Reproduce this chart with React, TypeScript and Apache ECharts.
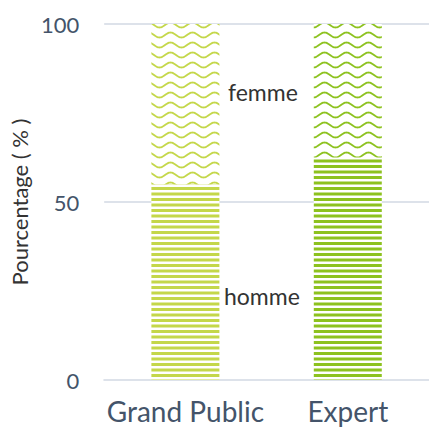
import React, { useEffect, useRef } from "react";
import * as echarts from "echarts";

const categories = ["Grand Public", "Expert"];
const hommeValues = [55, 62.5];
const femmeValues = [45, 37.5];
const yTicks = [0, 50, 100];
const barColors = ["#c4d74a", "#8dc21f"];

function stripeTile(color: string) {
  const c = document.createElement("canvas");
  c.width = 8;
  c.height = 11;
  const g = c.getContext("2d")!;
  g.fillStyle = "#ffffff";
  g.fillRect(0, 0, 8, 11);
  g.fillStyle = color;
  g.fillRect(0, 0, 8, 3);
  g.fillRect(0, 5.5, 8, 3);
  return c;
}

function waveTile(color: string) {
  const c = document.createElement("canvas");
  c.width = 22;
  c.height = 10;
  const g = c.getContext("2d")!;
  g.fillStyle = "#ffffff";
  g.fillRect(0, 0, 22, 10);
  g.strokeStyle = color;
  g.lineWidth = 1.8;
  g.beginPath();
  for (let x = -1; x <= 23; x += 0.5) {
    const y = 5 + 2.5 * Math.sin((2 * Math.PI * x) / 22);
    if (x === -1) g.moveTo(x, y);
    else g.lineTo(x, y);
  }
  g.stroke();
  return c;
}

export default function App() {
  const ref = useRef<HTMLDivElement>(null);
  useEffect(() => {
    const chart = echarts.init(ref.current!, undefined, { renderer: "svg" });
    const font = "Lato, 'Liberation Sans', sans-serif";
    const hommeData = hommeValues.map((v, i) => ({
      value: v,
      itemStyle: { color: { image: stripeTile(barColors[i]), repeat: "repeat" } },
    }));
    const femmeData = femmeValues.map((v, i) => ({
      value: v,
      itemStyle: { color: { image: waveTile(barColors[i]), repeat: "repeat" } },
    }));
    chart.setOption({
      animation: false,
      backgroundColor: "#ffffff",
      grid: { left: 96, right: 0, top: 24, bottom: 52, containLabel: false },
      xAxis: {
        type: "category",
        data: categories,
        axisLine: { lineStyle: { color: "#dde2ea", width: 2 } },
        axisTick: { show: false },
        axisLabel: {
          interval: 0,
          color: "#44546a",
          fontSize: 28,
          fontFamily: font,
          margin: 17,
        },
      },
      yAxis: {
        type: "value",
        min: 0,
        max: 100,
        interval: 50,
        name: "Pourcentage ( % )",
        nameLocation: "middle",
        nameGap: 66,
        nameTextStyle: { color: "#333333", fontSize: 22, fontFamily: font },
        axisLine: { show: false },
        axisTick: { show: false },
        axisLabel: {
          color: "#44546a",
          fontSize: 22,
          fontFamily: font,
          margin: 25,
          formatter: (v: number) => (yTicks.includes(v) ? String(v) : ""),
        },
        splitLine: { lineStyle: { color: "#dde2ea", width: 2 } },
      },
      series: [
        { name: "homme", type: "bar", stack: "s", barWidth: 68, data: hommeData },
        { name: "femme", type: "bar", stack: "s", barWidth: 68, data: femmeData },
      ],
      graphic: [
        {
          type: "text",
          left: 228,
          top: 80,
          style: { text: "femme", fontSize: 23, fontFamily: font, fill: "#333333" },
        },
        {
          type: "text",
          left: 224,
          top: 284,
          style: { text: "homme", fontSize: 23, fontFamily: font, fill: "#333333" },
        },
      ],
    });
    return () => chart.dispose();
  }, []);
  return (
    <div
      ref={ref}
      style={{ position: "fixed", left: 0, top: 0, width: 429, height: 432 }}
    />
  );
}
